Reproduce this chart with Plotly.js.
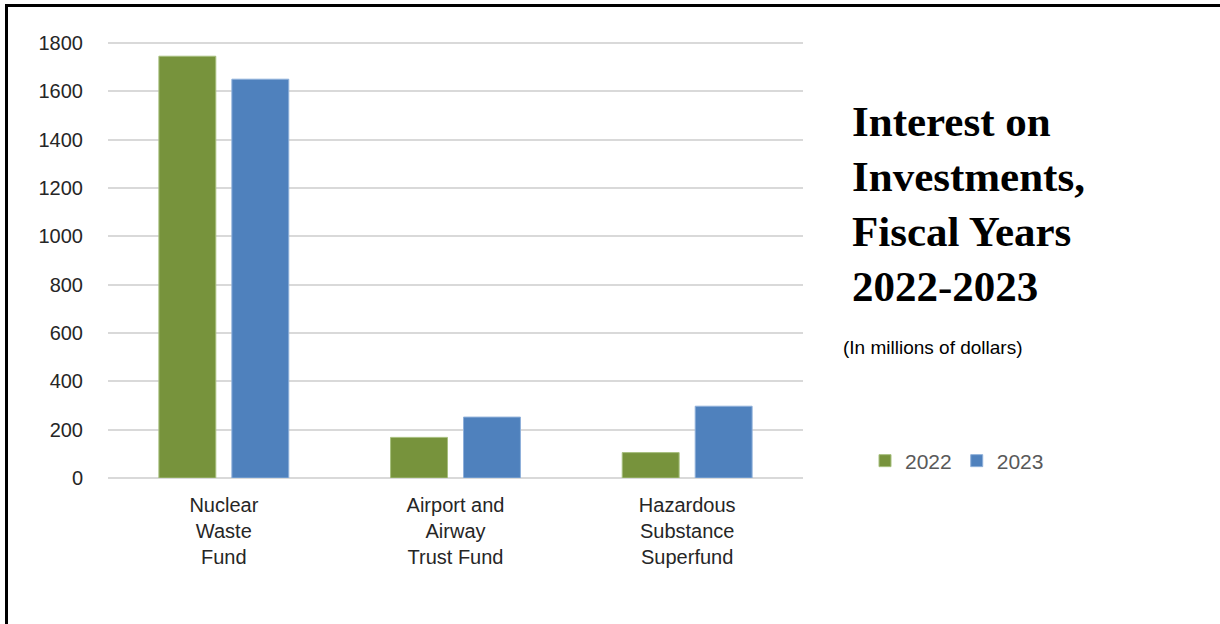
<!DOCTYPE html>
<html>
<head>
<meta charset="utf-8">
<script src="https://cdn.plot.ly/plotly-3.0.1.min.js"></script>
<style>
  html, body { margin: 0; padding: 0; background: #fff; }
  #wrap { position: relative; width: 1220px; height: 624px; overflow: hidden; }
  #chart { position: absolute; left: 0; top: 0; width: 1220px; height: 624px; }
  #frame { position: absolute; left: 5px; top: 4px; width: 1230px; height: 640px;
           border-top: 3px solid #000; border-left: 3px solid #000; pointer-events: none; }
</style>
</head>
<body>
<div id="wrap">
  <div id="chart"></div>
  <div id="frame"></div>
</div>
<script>
// ---- data ----
const categories = ["Nuclear<br>Waste<br>Fund", "Airport and<br>Airway<br>Trust Fund", "Hazardous<br>Substance<br>Superfund"];
const seriesNames = ["2022", "2023"];
const values2022 = [1745, 168, 105];
const values2023 = [1650, 252, 297];
const yTicks = [0, 200, 400, 600, 800, 1000, 1200, 1400, 1600, 1800];
const titleLines = ["Interest on", "Investments,", "Fiscal Years", "2022-2023"];
const subtitle = "(In millions of dollars)";

const green = "#77933C";
const blue = "#4F81BD";

const traces = [
  { type: "bar", name: seriesNames[0], x: categories, y: values2022,
    marker: { color: green, line: { color: "#a7bf7e", width: 1 } }, hoverinfo: "skip" },
  { type: "bar", name: seriesNames[1], x: categories, y: values2023,
    marker: { color: blue, line: { color: "#8fb0da", width: 1 } }, hoverinfo: "skip" }
];

const annotations = titleLines.map((t, i) => ({
  xref: "paper", yref: "paper",
  x: (850 - 108) / 695, y: (478 - (137 + 55 * i)) / 437,
  xanchor: "left", yanchor: "bottom",
  text: t, showarrow: false,
  font: { family: "Liberation Serif, Times New Roman, serif", size: 43, color: "#000", weight: "bold" },
  yshift: -10
}));
annotations.push({
  xref: "paper", yref: "paper",
  x: (841 - 108) / 695, y: (478 - 347) / 437,
  xanchor: "left", yanchor: "middle",
  text: subtitle, showarrow: false,
  font: { family: "Liberation Sans, Arial, sans-serif", size: 19, color: "#000" }
});

const layout = {
  width: 1220, height: 624,
  margin: { l: 108, r: 417, t: 41, b: 146, pad: 0 },
  paper_bgcolor: "#fff", plot_bgcolor: "#fff",
  barmode: "group", bargap: 0.37, bargroupgap: 0.22,
  showlegend: true,
  legend: {
    orientation: "h", x: (865 - 108) / 695, y: (478 - 461) / 437,
    xanchor: "left", yanchor: "middle",
    font: { family: "Liberation Sans, Arial, sans-serif", size: 21, color: "#595959" },
    itemwidth: 30, bgcolor: "rgba(0,0,0,0)"
  },
  xaxis: {
    type: "category", showgrid: false, showline: false, zeroline: false, ticks: "",
    tickfont: { family: "Liberation Sans, Arial, sans-serif", size: 20, color: "#262626" },
    ticklabelstandoff: 13
  },
  yaxis: {
    range: [0, 1808], tickvals: yTicks, ticktext: yTicks.map(String),
    showgrid: true, gridcolor: "#d9d9d9", gridwidth: 2,
    zeroline: true, zerolinecolor: "#d9d9d9", zerolinewidth: 2,
    showline: false, ticks: "",
    tickfont: { family: "Liberation Sans, Arial, sans-serif", size: 20, color: "#262626" },
    ticklabelstandoff: 24
  },
  annotations: annotations
};

Plotly.newPlot("chart", traces, layout, { staticPlot: true, displayModeBar: false });
</script>
</body>
</html>
